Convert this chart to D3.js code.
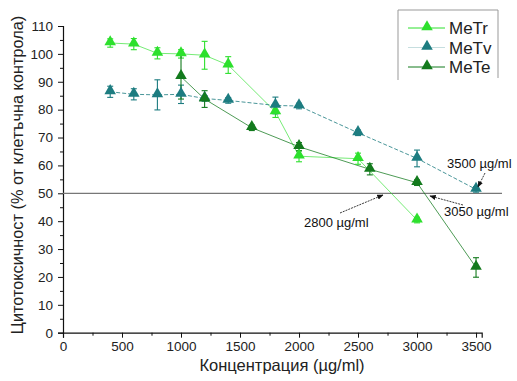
<!DOCTYPE html>
<html>
<head>
<meta charset="utf-8">
<script src="https://cdn.jsdelivr.net/npm/d3@7"></script>
<style>
  body { margin: 0; background: #fff; }
  svg text { font-family: "Liberation Sans", Arial, sans-serif; }
</style>
</head>
<body>
<svg id="chart" width="517" height="381"></svg>
<script>
// data
const seriesNames = ['MeTr', 'MeTv', 'MeTe'];

const meTrConc = [400, 600, 800, 1000, 1200, 1400, 1800, 2000, 2500, 3000];
const meTrVal = [103.9, 103.5, 100.2, 100.0, 99.5, 96.0, 79.2, 63.3, 62.4, 40.4];
const meTrErr = [1.5, 2, 2, 1.5, 5, 3, 2, 2, 2, 1];

const meTvConc = [400, 600, 800, 1000, 1200, 1400, 1800, 2000, 2500, 3000, 3500];
const meTvVal = [86.4, 85.5, 85.3, 85.5, 84.0, 83.3, 81.5, 81.3, 71.7, 62.5, 51.4];
const meTvErr = [2, 2, 5.4, 3.3, 1, 1, 3, 1, 1, 3, 1];

const meTeConc = [1000, 1200, 1600, 2000, 2600, 3000, 3500];
const meTeVal = [91.8, 83.8, 73.5, 66.7, 58.6, 53.8, 23.4];
const meTeErr = [8, 3, 1, 1.5, 2, 1, 3.5];

const xTicks = [0, 500, 1000, 1500, 2000, 2500, 3000, 3500];
const yTicks = [0, 10, 20, 30, 40, 50, 60, 70, 80, 90, 100, 110];
const refLevel = 50;

const notes = [
  { text: '2800 \u00b5g/ml', conc: 2800 },
  { text: '3050 \u00b5g/ml', conc: 3050 },
  { text: '3500 \u00b5g/ml', conc: 3500 }
];

const colors = { MeTr: '#2de02d', MeTv: '#1d7c80', MeTe: '#137a1d' };

const svg = d3.select('#chart');
const x = d3.scaleLinear().domain([0, 3548]).range([63, 481.7]);
const y = d3.scaleLinear().domain([0, 110]).range([332.7, 26]);

const series = [
  { name: 'MeTr', conc: meTrConc, val: meTrVal, err: meTrErr, dash: null, lineOpacity: 0.65 },
  { name: 'MeTv', conc: meTvConc, val: meTvVal, err: meTvErr, dash: '4,2', lineOpacity: 0.8 },
  { name: 'MeTe', conc: meTeConc, val: meTeVal, err: meTeErr, dash: null, lineOpacity: 0.75 }
].map(s => Object.assign(s, {
  points: s.conc.map((c, i) => ({ c: c, v: s.val[i], e: s.err[i] }))
}));

// axes
svg.append('g')
  .attr('transform', `translate(0,${y(0)})`)
  .call(d3.axisBottom(x).tickValues(xTicks).tickSize(5).tickPadding(4).tickFormat(d3.format('d')));
svg.append('g')
  .attr('transform', `translate(0,${y(0)})`)
  .call(d3.axisBottom(x).tickValues(d3.range(250, 3550, 500)).tickSize(3).tickFormat(''))
  .select('.domain').remove();

svg.append('g')
  .attr('transform', `translate(${x(0)},0)`)
  .call(d3.axisLeft(y).tickValues(yTicks).tickSize(5).tickPadding(5));
svg.append('g')
  .attr('transform', `translate(${x(0)},0)`)
  .call(d3.axisLeft(y).tickValues(d3.range(5, 110, 10)).tickSize(3).tickFormat(''))
  .select('.domain').remove();

svg.selectAll('.domain').attr('stroke', '#111').attr('stroke-width', 1.2);
svg.selectAll('.tick line').attr('stroke', '#111');
svg.selectAll('.tick text').attr('font-size', 13.5).attr('fill', '#222');

// reference line at 50 %
svg.append('line')
  .attr('x1', x(0)).attr('x2', x(3720))
  .attr('y1', y(refLevel)).attr('y2', y(refLevel))
  .attr('stroke', '#777').attr('stroke-width', 1.3);

// axis titles
svg.append('text')
  .attr('x', 282).attr('y', 371)
  .attr('text-anchor', 'middle')
  .attr('font-size', 16.5).attr('fill', '#222')
  .text('Концентрация (\u00b5g/ml)');
svg.append('text')
  .attr('transform', 'translate(23,175) rotate(-90)')
  .attr('text-anchor', 'middle')
  .attr('font-size', 16.3).attr('fill', '#222')
  .text('Цитотоксичност (% от клетъчна контрола)');

// lines
const line = d3.line().x(d => x(d.c)).y(d => y(d.v));
svg.append('g').selectAll('path')
  .data(series)
  .enter()
  .append('path')
  .attr('d', d => line(d.points))
  .attr('fill', 'none')
  .attr('stroke', d => colors[d.name])
  .attr('stroke-opacity', d => d.lineOpacity)
  .attr('stroke-width', 1)
  .attr('stroke-dasharray', d => d.dash);

// error bars
const CAP = 3;
series.forEach(s => {
  const g = svg.append('g').attr('stroke', colors[s.name]).attr('stroke-width', 1.1);
  s.points.forEach(p => {
    const cx = x(p.c), top = y(p.v + p.e), bot = y(p.v - p.e);
    g.append('line').attr('x1', cx).attr('x2', cx).attr('y1', top).attr('y2', bot);
    g.append('line').attr('x1', cx - CAP).attr('x2', cx + CAP).attr('y1', top).attr('y2', top);
    g.append('line').attr('x1', cx - CAP).attr('x2', cx + CAP).attr('y1', bot).attr('y2', bot);
  });
});

// markers
const tri = d3.symbol().type(d3.symbolTriangle).size(58);
series.forEach(s => {
  svg.append('g').selectAll('path')
    .data(s.points)
    .enter()
    .append('path')
    .attr('d', tri)
    .attr('transform', d => `translate(${x(d.c)},${y(d.v) - 1})`)
    .attr('fill', colors[s.name]);
});

// annotations with arrows
svg.append('defs').append('marker')
  .attr('id', 'arrow')
  .attr('viewBox', '0 0 10 10')
  .attr('refX', 9).attr('refY', 5)
  .attr('markerWidth', 7).attr('markerHeight', 7)
  .attr('orient', 'auto')
  .append('path').attr('d', 'M0,1 L10,5 L0,9 Z').attr('fill', '#111');

const notePos = [
  { tx: 304, ty: 227, from: [340, 213], to: [383, 195] },
  { tx: 444, ty: 216, from: [463, 205], to: [430, 196] },
  { tx: 447, ty: 168, from: [485, 173], to: [478, 187] }
];
notes.forEach((n, i) => {
  const p = notePos[i];
  svg.append('text')
    .attr('x', p.tx).attr('y', p.ty)
    .attr('font-size', 13).attr('fill', '#111')
    .text(n.text);
  svg.append('line')
    .attr('x1', p.from[0]).attr('y1', p.from[1])
    .attr('x2', p.to[0]).attr('y2', p.to[1])
    .attr('stroke', '#222').attr('stroke-width', 0.9)
    .attr('stroke-dasharray', '2,1')
    .attr('marker-end', 'url(#arrow)');
});

// legend
const legend = svg.append('g').attr('transform', 'translate(398,10)');
legend.append('path')
  .attr('d', 'M0,70 V0 H100 V68')
  .attr('fill', 'none')
  .attr('stroke', '#999').attr('stroke-width', 1);
seriesNames.forEach((name, i) => {
  const row = legend.append('g').attr('transform', `translate(0,${18 + i * 19.5})`);
  row.append('line')
    .attr('x1', 10).attr('x2', 47)
    .attr('stroke', colors[name])
    .attr('stroke-opacity', name === 'MeTv' ? 0.25 : 1)
    .attr('stroke-width', 1);
  row.append('path')
    .attr('d', tri)
    .attr('transform', 'translate(29,-1)')
    .attr('fill', colors[name]);
  row.append('text')
    .attr('x', 51).attr('y', 6)
    .attr('font-size', 17).attr('fill', '#222')
    .text(name);
});
</script>
</body>
</html>
